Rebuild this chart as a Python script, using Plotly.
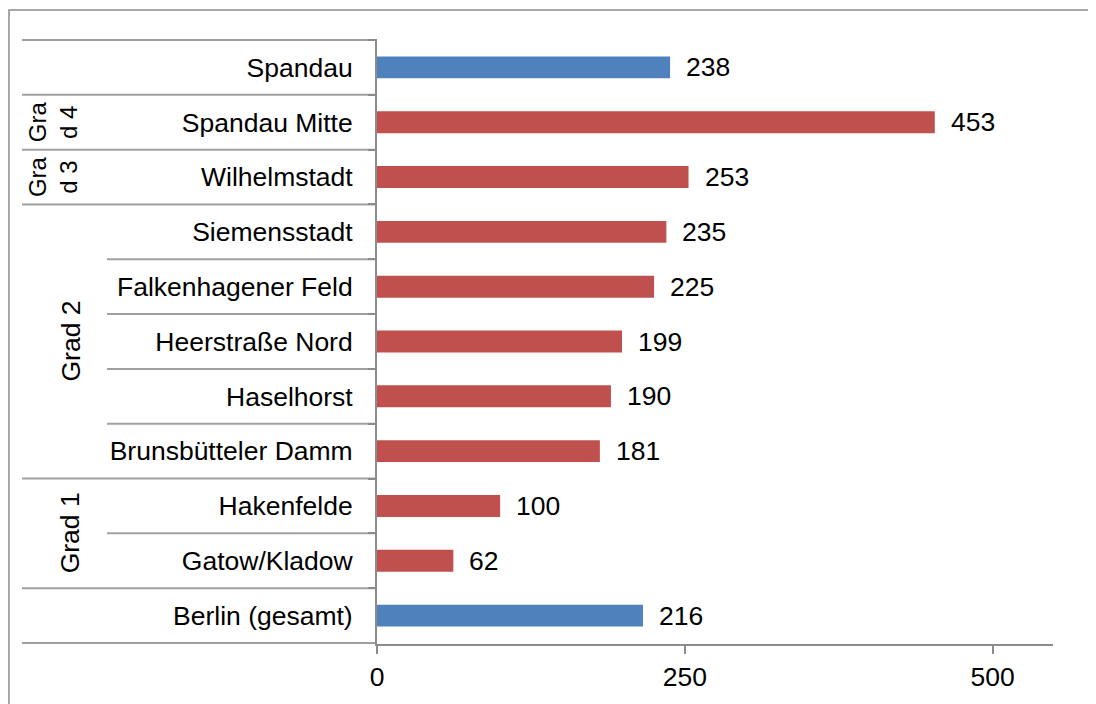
import plotly.graph_objects as go

# ---- data (top to bottom) ----
categories = ["Spandau", "Spandau Mitte", "Wilhelmstadt", "Siemensstadt",
              "Falkenhagener Feld", "Heerstraße Nord", "Haselhorst",
              "Brunsbütteler Damm", "Hakenfelde", "Gatow/Kladow", "Berlin (gesamt)"]
values = [238, 453, 253, 235, 225, 199, 190, 181, 100, 62, 216]
kinds = ["total", "district", "district", "district", "district", "district",
         "district", "district", "district", "district", "total"]
groups = [("", 0, 0), ("Gra<br>d 4", 1, 1), ("Gra<br>d 3", 2, 2),
          ("Grad 2", 3, 7), ("Grad 1", 8, 9), ("", 10, 10)]
x_ticks = [0, 250, 500]

COLORS = {"total": "#4F81BD", "district": "#C0504D"}
FONT = "Liberation Sans, Arial, sans-serif"
FS = 26.5
GRAY = "#8C8C8C"
SEP = "#A0A0A0"

OFF = 8  # page body margin
W, H = 1096, 704
# target screen geometry of plot area
SL, SR, ST, SB = 377, 1053, 39, 644
L, T = SL - OFF, ST - OFF
R, B = W - (SR - OFF), H - (SB - OFF)
pw, ph = W - L - R, H - T - B

def px_x(sx):
    return (sx - OFF - L) / pw

def px_y(sy):
    return (H - B - (sy - OFF)) / ph

fig = go.Figure()
fig.add_trace(go.Bar(
    x=values, y=categories, orientation="h",
    marker=dict(color=[COLORS[k] for k in kinds], line=dict(width=0)),
    hoverinfo="x+y", showlegend=False,
))

annotations = []
for c, v in zip(categories, values):
    annotations.append(dict(x=v, y=c, xref="x", yref="y", text=str(v),
                            showarrow=False, xanchor="left", xshift=14,
                            font=dict(family=FONT, size=FS, color="#000")))

shapes = []
n = len(categories)
outer = set()
for name, a, b in groups:
    outer.add(a - 0.5)
    outer.add(b + 0.5)
for i in range(n + 1):
    yb = i - 0.5
    x0 = px_x(22) if yb in outer else px_x(107)
    shapes.append(dict(type="line", xref="paper", yref="y", x0=x0, x1=0,
                       y0=yb, y1=yb, line=dict(color=SEP, width=2), layer="below"))

for name, a, b in groups:
    if not name:
        continue
    two = "<br>" in name
    annotations.append(dict(x=px_x(53 if two else 70), y=(a + b) / 2,
                            xref="paper", yref="y", text=name, showarrow=False,
                            textangle=-90, xanchor="center", yanchor="middle",
                            font=dict(family=FONT, size=24 if two else FS, color="#000")))

# outer border
shapes.append(dict(type="rect", xref="paper", yref="paper",
                   x0=px_x(9), x1=px_x(1120), y0=px_y(730), y1=px_y(10),
                   line=dict(color=GRAY, width=1.5), fillcolor="rgba(0,0,0,0)"))

fig.update_layout(
    width=W, height=H,
    margin=dict(l=L, r=R, t=T, b=B),
    paper_bgcolor="white", plot_bgcolor="white",
    bargap=0.6,
    font=dict(family=FONT, size=FS, color="#000"),
    xaxis=dict(range=[0, 549], tickvals=x_ticks, ticktext=[str(t) for t in x_ticks],
               showgrid=False, zeroline=False, showline=True, linecolor=GRAY, linewidth=2,
               ticks="outside", ticklen=8, tickcolor=GRAY, tickwidth=2,
               tickfont=dict(family=FONT, size=FS, color="#000"), fixedrange=True),
    yaxis=dict(categoryorder="array", categoryarray=categories, autorange="reversed",
               showgrid=False, zeroline=False, showline=True, linecolor=GRAY, linewidth=2,
               ticks="outside", tickson="boundaries", ticklen=7, tickcolor=GRAY, tickwidth=2,
               ticklabelstandoff=17,
               tickfont=dict(family=FONT, size=FS, color="#000"), fixedrange=True),
    annotations=annotations,
    shapes=shapes,
)

fig.write_html("out.html")
